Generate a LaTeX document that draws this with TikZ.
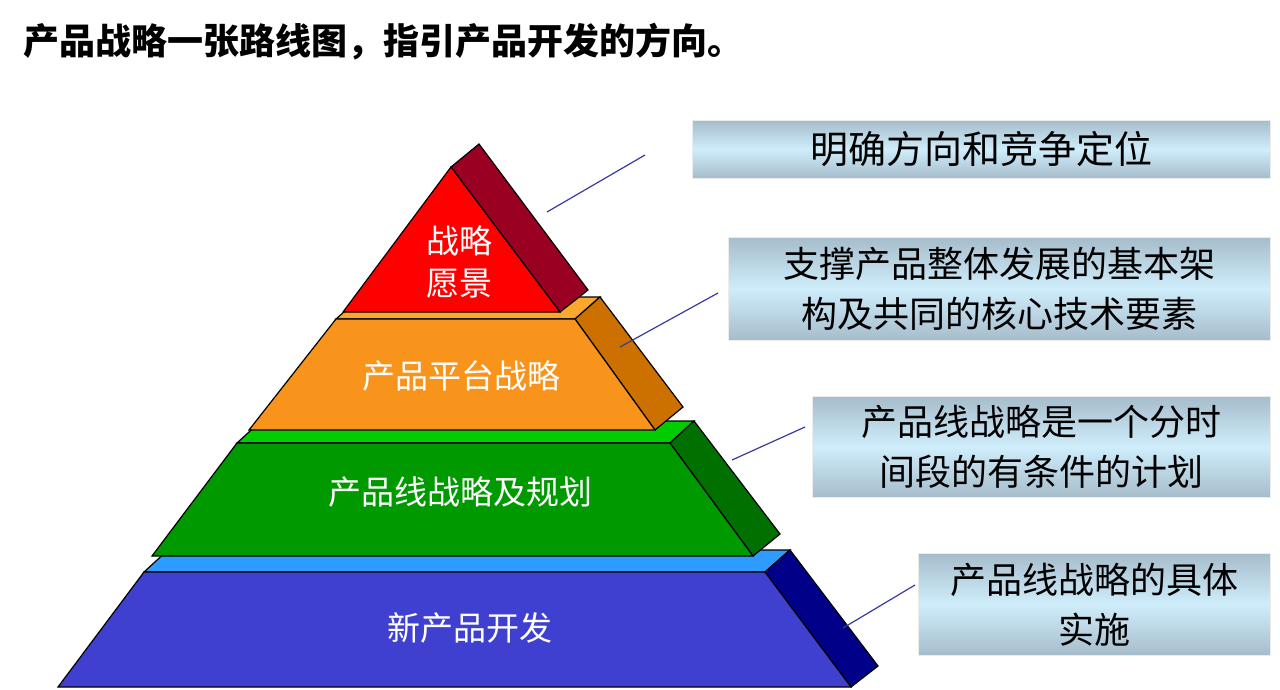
\documentclass[tikz,border=0pt]{standalone}
\usepackage{fontspec}
\setmainfont{Noto Sans CJK SC}
\begin{document}
\begin{tikzpicture}[x=1pt,y=-1pt,
  face/.style={draw=black,line width=1.2pt,line join=miter},
  infobox/.style={draw=white!85!gray,line width=0.5pt,anchor=north west,inner sep=0pt,align=center,
     top color=boxedge,bottom color=boxedge,middle color=boxmid,font=\fontsize{36}{50}\selectfont},
  lead/.style={draw=leadblue,line width=1.2pt},
  ptext/.style={text=white,font=\fontsize{33}{46}\selectfont,align=center}]
\definecolor{boxedge}{HTML}{A6BCCB}
\definecolor{boxmid}{HTML}{CFEDFB}
\definecolor{leadblue}{HTML}{3A3AA0}
\useasboundingbox (0,0) rectangle (1280,689);
\fill[white] (0,0) rectangle (1280,689);
\node[anchor=west,font=\fontsize{36}{40}\selectfont\bfseries] (title) at (20,42) {产品战略一张路线图，指引产品开发的方向。};
% blue layer
\draw[face,fill={rgb,255:red,46;green,155;blue,255}] (144,572) -- (168,550) -- (790,550) -- (765,572) -- cycle;
\draw[face,fill={rgb,255:red,0;green,0;blue,136}] (765,572) -- (790,550) -- (878,666) -- (851,687) -- cycle;
\draw[face,fill={rgb,255:red,64;green,64;blue,208}] (144,572) -- (765,572) -- (851,687) -- (58,687) -- cycle;
% green layer
\draw[face,fill={rgb,255:red,0;green,204;blue,0}] (237,443) -- (261,421) -- (694,421) -- (670,443) -- cycle;
\draw[face,fill={rgb,255:red,0;green,112;blue,0}] (670,443) -- (694,421) -- (780,534) -- (753,556) -- cycle;
\draw[face,fill={rgb,255:red,0;green,153;blue,0}] (237,443) -- (670,443) -- (753,556) -- (152,556) -- cycle;
% orange layer
\draw[face,fill={rgb,255:red,251;green,168;blue,44}] (336,319) -- (361,297) -- (600,297) -- (575,319) -- cycle;
\draw[face,fill={rgb,255:red,204;green,112;blue,0}] (575,319) -- (600,297) -- (683,407) -- (655,430) -- cycle;
\draw[face,fill={rgb,255:red,248;green,148;blue,28}] (336,319) -- (575,319) -- (655,430) -- (249,430) -- cycle;
% red
\draw[face,fill={rgb,255:red,153;green,0;blue,34}] (451,167) -- (479,144) -- (588,290) -- (560,312) -- cycle;
\draw[face,fill=red] (451,167) -- (560,312) -- (343,312) -- cycle;
% texts
\node[ptext] (t1) at (459,262) {战略\\[-4pt]愿景};
\node[ptext] (t2) at (461,376) {产品平台战略};
\node[ptext] (t3) at (460,492) {产品线战略及规划};
\node[ptext] (t4) at (470,628) {新产品开发};
% boxes
\node[infobox,minimum width=578pt,minimum height=58pt,font=\fontsize{38}{50}\selectfont] (b1) at (692,120) {明确方向和竞争定位};
\node[infobox,minimum width=542pt,minimum height=103pt] (b2) at (728,237) {支撑产品整体发展的基本架\\构及共同的核心技术要素};
\node[infobox,minimum width=458pt,minimum height=101pt] (b3) at (812,396) {产品线战略是一个分时\\间段的有条件的计划};
\node[infobox,minimum width=352pt,minimum height=102pt] (b4) at (918,553) {产品线战略的具体\\实施};
% leaders
\coordinate (l1a) at (547,212); \coordinate (l1b) at (645,155);
\coordinate (l2a) at (620,347); \coordinate (l2b) at (718,293);
\coordinate (l3a) at (732,460); \coordinate (l3b) at (805,427);
\coordinate (l4a) at (843,628); \coordinate (l4b) at (915,585);
\draw[lead] (l1a) -- (l1b);
\draw[lead] (l2a) -- (l2b);
\draw[lead] (l3a) -- (l3b);
\draw[lead] (l4a) -- (l4b);
\end{tikzpicture}
\end{document}
